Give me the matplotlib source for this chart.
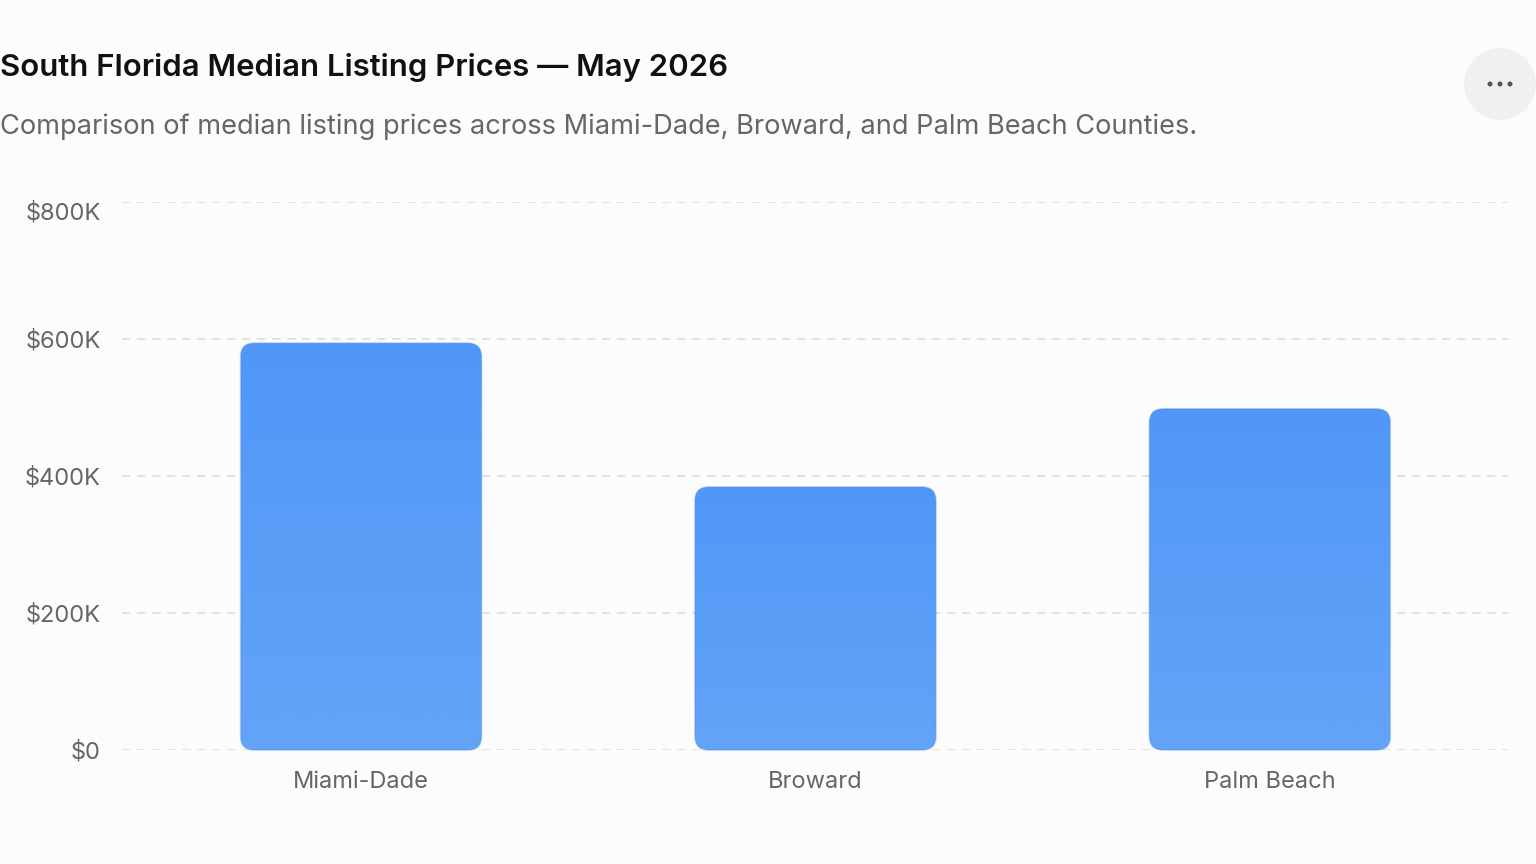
import matplotlib.pyplot as plt
import numpy as np
from matplotlib.patches import FancyBboxPatch, Ellipse

counties = ['Miami-Dade', 'Broward', 'Palm Beach']
prices = [594000, 384000, 498000]
yticks = [0, 200000, 400000, 600000, 800000]
ytick_labels = ['$0', '$200K', '$400K', '$600K', '$800K']

plt.rcParams['font.family'] = ['Inter', 'DejaVu Sans']

W, H = 1536, 864
fig = plt.figure(figsize=(W/100, H/100), dpi=100)
fig.patch.set_facecolor('#fcfcfc')
ax = fig.add_axes([122/W, 1-750/H, (1508-122)/W, (750-202)/H])
ax.set_facecolor('#fcfcfc')

fig.text(0.0, 1-67/H, 'South Florida Median Listing Prices \u2014 May 2026',
         fontsize=22.4, fontweight='semibold', color='#111111', va='center', ha='left')
fig.text(0.0, 1-127/H, 'Comparison of median listing prices across Miami-Dade, Broward, and Palm Beach Counties.',
         fontsize=19.6, color='#666666', va='center', ha='left')

# menu button
fig.patches.append(Ellipse((1500/W, 1-84/H), 72/W, 72/H, transform=fig.transFigure,
                           facecolor='#f0f0f0', edgecolor='none'))
for dx in (-10, 0, 10):
    fig.patches.append(Ellipse(((1500+dx)/W, 1-84/H), 5/W, 5/H, transform=fig.transFigure,
                               facecolor='#555555', edgecolor='none'))

ax.set_xlim(-0.526, 2.524)
ax.set_ylim(0, 800000)

# px per data unit, used for round corners
px_x = 454.5
px_y = 548/800000
bw = 241/454.5
rad = 14/px_x
asp = px_x/px_y
grad = np.linspace(0, 1, 256).reshape(-1, 1)
top_c = np.array([0x50, 0x97, 0xf7]) / 255
bot_c = np.array([0x64, 0xa4, 0xf7]) / 255
for i, v in enumerate(prices):
    patch = FancyBboxPatch((i - bw/2, 0), bw, v,
                           boxstyle='round,pad=0,rounding_size=%f' % rad,
                           mutation_aspect=asp,
                           facecolor='none', edgecolor='none', zorder=3, clip_on=False)
    ax.add_patch(patch)
    img = bot_c + (top_c - bot_c) * grad
    im = ax.imshow(img.reshape(256, 1, 3), extent=(i - bw/2, i + bw/2, 0, v),
                   origin='lower', aspect='auto', zorder=3)
    im.set_clip_path(patch)
    edge = FancyBboxPatch((i - bw/2, 0), bw, v,
                          boxstyle='round,pad=0,rounding_size=%f' % rad,
                          mutation_aspect=asp,
                          facecolor='none', edgecolor='#4a8fec', linewidth=1, alpha=0.5,
                          zorder=4, clip_on=False)
    ax.add_patch(edge)

ax.set_aspect('auto')
ax.set_xlim(-0.526, 2.524)
ax.set_ylim(0, 800000)

ax.set_yticks(yticks)
ax.set_yticklabels([])
for v, lab in zip(yticks, ytick_labels):
    dy = -11 if v == yticks[-1] else -2
    ax.annotate(lab, xy=(0, v), xycoords=('axes fraction', 'data'),
                xytext=(-21, dy), textcoords='offset pixels',
                ha='right', va='center', fontsize=17, color='#666666')

ax.set_xticks(range(len(counties)))
ax.set_xticklabels(counties)
ax.tick_params(length=0, labelsize=17, labelcolor='#666666')
ax.tick_params(axis='x', pad=15)
ax.grid(axis='y', color='#dddddd', linestyle=(0, (5, 4)), linewidth=1.2, zorder=0)
for s in ax.spines.values():
    s.set_visible(False)

fig.savefig('out.png', dpi=100, facecolor=fig.get_facecolor())
